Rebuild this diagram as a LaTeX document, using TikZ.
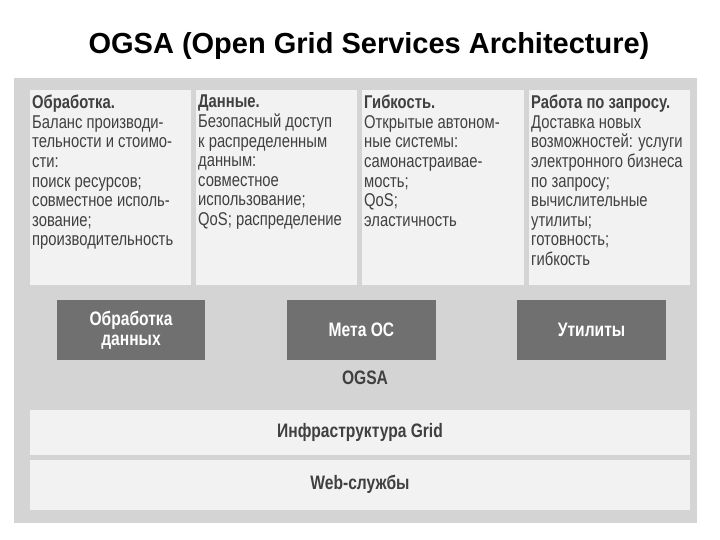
\documentclass[tikz,border=0pt]{standalone}
\usepackage{fontspec}
\setmainfont{Liberation Sans}
\newfontfamily\cf[FakeStretch=0.8]{Liberation Sans}
\definecolor{bg}{HTML}{D4D4D4}
\definecolor{pan}{HTML}{F2F2F2}
\definecolor{dk}{HTML}{707070}
\definecolor{tx}{HTML}{404040}
\tikzset{
 panel/.style={fill=pan,draw=none},
 ptext/.style={anchor=north west,align=left,inner sep=0pt,text=tx,font=\cf\fontsize{18.5}{19.6}\selectfont},
 dbox/.style={fill=dk,draw=none,text=white,font=\cf\bfseries\fontsize{19.5}{20}\selectfont,align=center},
 blabel/.style={text=tx,font=\cf\bfseries\fontsize{19.5}{20}\selectfont}
}
\begin{document}
\begin{tikzpicture}[x=1pt,y=-1pt]
\useasboundingbox (0,0) rectangle (720,540);
\fill[white] (0,0) rectangle (720,540);
\node[font=\bfseries\fontsize{29}{31}\selectfont] (title) at (369,46) {OGSA (Open Grid Services Architecture)};
\fill[bg] (14,78) rectangle (697,523);
\fill[panel] (30,90) rectangle (191,285);
\fill[panel] (196,90) rectangle (357,285);
\fill[panel] (362,90) rectangle (524,285);
\fill[panel] (529,90) rectangle (690,285);
\fill[panel] (30,410) rectangle (690,455);
\fill[panel] (30,460) rectangle (690,510);
\node[ptext] (p1) at (32,95) {\textbf{Обработка.}\\Баланс производи-\\тельности и стоимо-\\сти:\\поиск ресурсов;\\совместное исполь-\\зование;\\производительность};
\node[ptext] (p2) at (198,95) {\textbf{Данные.}\\Безопасный доступ\\к распределенным\\данным:\\совместное\\использование;\\QoS; распределение};
\node[ptext] (p3) at (364,95) {\textbf{Гибкость.}\\Открытые автоном-\\ные системы:\\самонастраивае-\\мость;\\QoS;\\эластичность};
\node[ptext] (p4) at (531,95) {\textbf{Работа по запросу.}\\Доставка новых\\возможностей: услуги\\электронного бизнеса\\по запросу;\\вычислительные\\утилиты;\\готовность;\\гибкость};
\node[dbox,minimum width=148pt,minimum height=60pt] (b1) at (131,330) {Обработка\\данных};
\node[dbox,minimum width=149pt,minimum height=60pt] (b2) at (361.5,330) {Мета ОС};
\node[dbox,minimum width=149pt,minimum height=60pt] (b3) at (591.5,330) {Утилиты};
\node[blabel] (ogsa) at (365,378) {OGSA};
\node[blabel] (infra) at (360,432) {Инфраструктура Grid};
\node[blabel] (web) at (360,484) {Web-службы};
\end{tikzpicture}
\end{document}
